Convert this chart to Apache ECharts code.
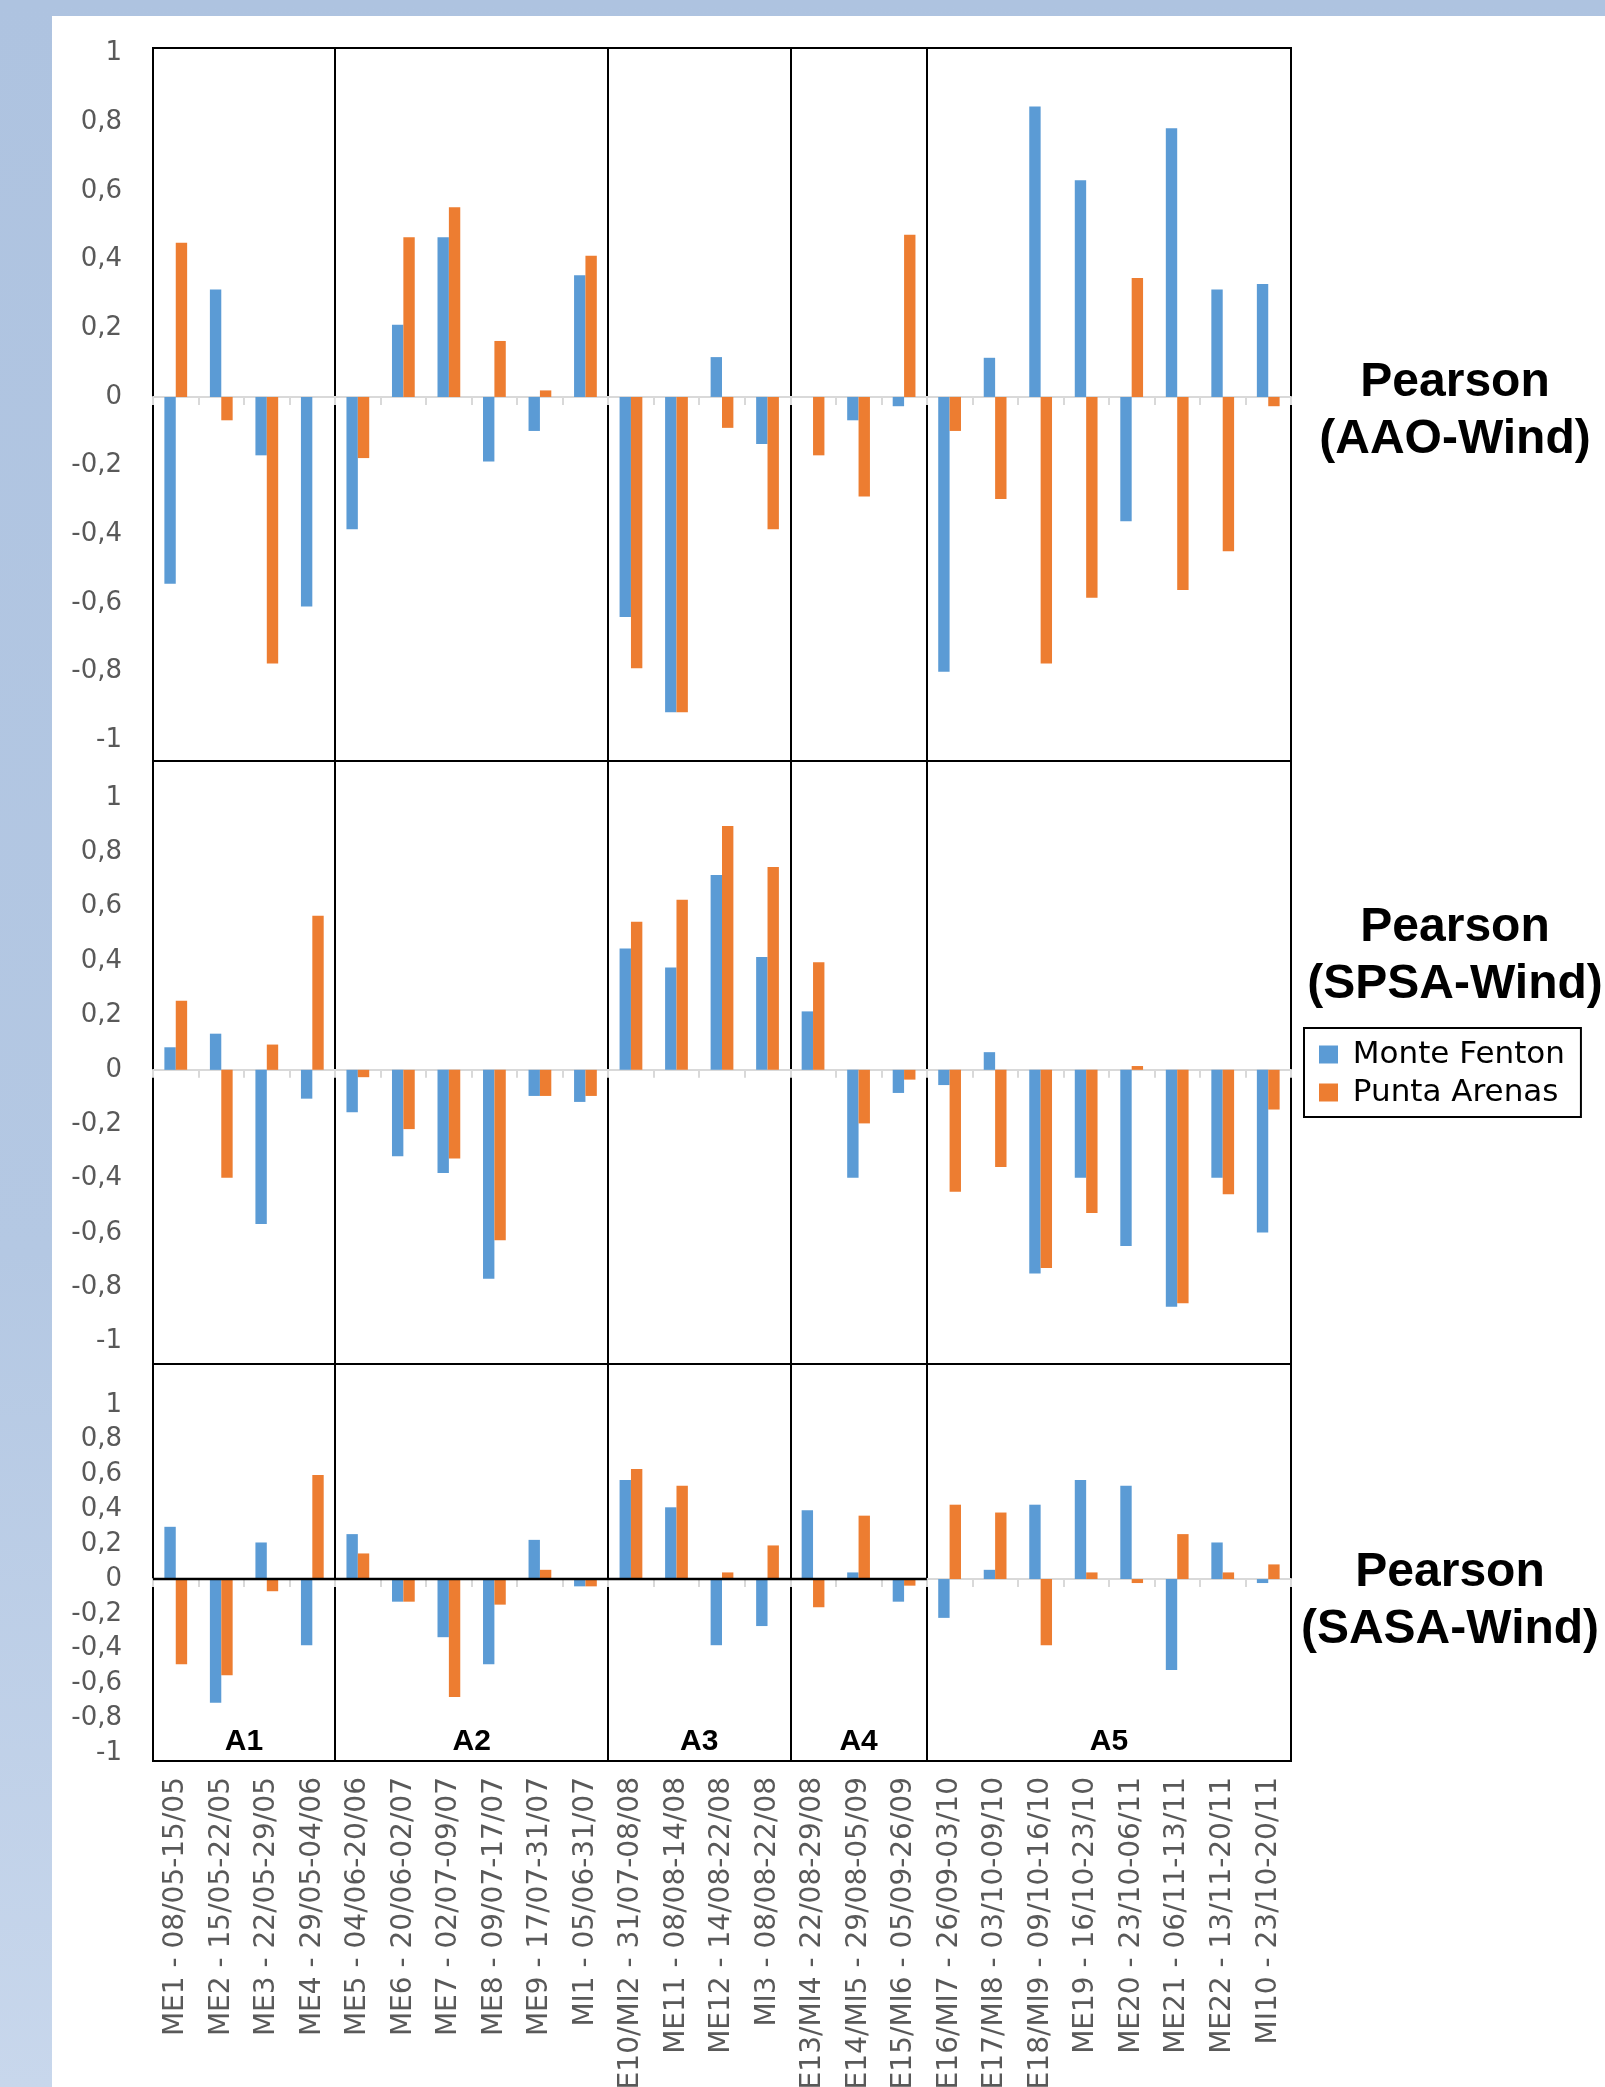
<!DOCTYPE html>
<html>
<head>
<meta charset="utf-8">
<script src="https://cdn.jsdelivr.net/npm/echarts@6/dist/echarts.min.js"></script>
<style>
  html, body { margin: 0; padding: 0; width: 1605px; height: 2087px; overflow: hidden; }
  body { background: linear-gradient(to bottom, #aec3e0 0%, #b4c8e3 60%, #c8d7ec 100%); position: relative; }
  #paper { position: absolute; left: 52px; top: 16px; right: 0; bottom: 0; background: #ffffff; }
  #chart { position: absolute; left: 0; top: 0; width: 1605px; height: 2087px; }
</style>
</head>
<body>
<div id="paper"></div>
<div id="chart"></div>
<script>
// ---------------- DATA ----------------
const categories = [
  "ME1 - 08/05-15/05", "ME2 - 15/05-22/05", "ME3 - 22/05-29/05", "ME4 - 29/05-04/06",
  "ME5 - 04/06-20/06", "ME6 - 20/06-02/07", "ME7 - 02/07-09/07", "ME8 - 09/07-17/07", "ME9 - 17/07-31/07", "MI1 - 05/06-31/07",
  "ME10/MI2 - 31/07-08/08", "ME11 - 08/08-14/08", "ME12 - 14/08-22/08", "MI3 - 08/08-22/08",
  "ME13/MI4 - 22/08-29/08", "ME14/MI5 - 29/08-05/09", "ME15/MI6 - 05/09-26/09",
  "ME16/MI7 - 26/09-03/10", "ME17/MI8 - 03/10-09/10", "ME18/MI9 - 09/10-16/10", "ME19 - 16/10-23/10",
  "ME20 - 23/10-06/11", "ME21 - 06/11-13/11", "ME22 - 13/11-20/11", "MI10 - 23/10-20/11"
];
const groupNames = ["A1", "A2", "A3", "A4", "A5"];
const groupSizes = [4, 6, 4, 3, 8];
const seriesNames = ["Monte Fenton", "Punta Arenas"];
const rowTitles = ["(AAO-Wind)", "(SPSA-Wind)", "(SASA-Wind)"];
const yTickValues = [-1, -0.8, -0.6, -0.4, -0.2, 0, 0.2, 0.4, 0.6, 0.8, 1];

const aaoMonteFenton = [-0.544, 0.313, -0.17, -0.61, -0.385, 0.21, 0.465, -0.188, -0.099, 0.354, -0.641, -0.918, 0.116, -0.137, 0, -0.068, -0.027, -0.80, 0.114, 0.846, 0.631, -0.362, 0.782, 0.313, 0.329];
const aaoPuntaArenas = [0.449, -0.068, -0.776, 0, -0.178, 0.465, 0.552, 0.163, 0.019, 0.411, -0.79, -0.918, -0.09, -0.385, -0.17, -0.29, 0.472, -0.099, -0.297, -0.776, -0.585, 0.346, -0.562, -0.449, -0.027];

const spsaMonteFenton = [0.083, 0.133, -0.567, -0.106, -0.156, -0.318, -0.379, -0.768, -0.096, -0.118, 0.446, 0.376, 0.717, 0.415, 0.215, -0.397, -0.085, -0.056, 0.065, -0.749, -0.397, -0.648, -0.871, -0.397, -0.598];
const spsaPuntaArenas = [0.254, -0.397, 0.093, 0.567, -0.027, -0.218, -0.326, -0.627, -0.096, -0.096, 0.545, 0.626, 0.897, 0.746, 0.396, -0.197, -0.036, -0.448, -0.357, -0.729, -0.527, 0.014, -0.859, -0.458, -0.146];

const sasaMonteFenton = [0.30, -0.71, 0.21, -0.38, 0.258, -0.13, -0.334, -0.49, 0.225, -0.042, 0.569, 0.412, -0.38, -0.27, 0.395, 0.038, -0.13, -0.223, 0.053, 0.427, 0.569, 0.536, -0.523, 0.21, -0.023];
const sasaPuntaArenas = [-0.49, -0.553, -0.07, 0.597, 0.147, -0.13, -0.677, -0.147, 0.053, -0.042, 0.632, 0.536, 0.038, 0.193, -0.162, 0.364, -0.038, 0.427, 0.382, -0.38, 0.038, -0.023, 0.258, 0.038, 0.084];

// ---------------- LAYOUT ----------------
const BLUE = "#5b9bd5", ORANGE = "#ed7d31";
const GRID_LEFT = 153, GRID_W = 1138;
const rows = [
  { top: 48,   height: 713, min: -1.06,  max: 1.016, mf: aaoMonteFenton,  pa: aaoPuntaArenas,  titleY: 383,  titleX: 1455 },
  { top: 761,  height: 603, min: -1.082, max: 1.136, mf: spsaMonteFenton, pa: spsaPuntaArenas, titleY: 928,  titleX: 1455 },
  { top: 1364, height: 397, min: -1.045, max: 1.235, mf: sasaMonteFenton, pa: sasaPuntaArenas, titleY: 1573, titleX: 1450 }
];
const FONT = "DejaVu Sans";

// group boundary indices
const groupStarts = [];
let acc = 0;
groupSizes.forEach((s, i) => { if (i > 0) groupStarts.push(acc); acc += s; });
const nCat = categories.length;
const band = GRID_W / nCat;

function fmtY(v) {
  if (Math.abs(v) < 1e-9) return "0";
  if (Math.abs(v - Math.round(v)) < 1e-9) return String(Math.round(v));
  return v.toFixed(1).replace(".", ",");
}

const grid = [], xAxis = [], yAxis = [], series = [];
rows.forEach((r, i) => {
  grid.push({
    left: GRID_LEFT, width: GRID_W, top: r.top, height: r.height,
    show: true, borderColor: "#000", borderWidth: 2, backgroundColor: "transparent",
    containLabel: false, outerBoundsMode: "none"
  });
  xAxis.push({
    type: "category", gridIndex: i, data: categories, position: "top",
    axisLine: { show: true, onZero: true, lineStyle: { color: "#d9d9d9", width: 2 } },
    axisTick: { show: true, inside: true, length: 8, interval: 0, lineStyle: { color: "#d9d9d9", width: 2 } },
    axisLabel: { show: false },
    splitLine: {
      show: true,
      interval: function (idx) { return groupStarts.indexOf(idx) >= 0; },
      lineStyle: { color: "#000", width: 2 }
    }
  });
  yAxis.push({
    type: "value", gridIndex: i, min: r.min, max: r.max,
    axisLine: { show: false }, axisTick: { show: false }, splitLine: { show: false },
    axisLabel: {
      show: true, customValues: yTickValues, formatter: fmtY,
      margin: 31, fontSize: 26, fontFamily: FONT, color: "#595959"
    }
  });
  series.push({
    type: "bar", name: seriesNames[0], xAxisIndex: i, yAxisIndex: i, data: r.mf,
    barWidth: "25%", barGap: "0%", itemStyle: { color: BLUE }
  });
  series.push({
    type: "bar", name: seriesNames[1], xAxisIndex: i, yAxisIndex: i, data: r.pa,
    barWidth: "25%", barGap: "0%", itemStyle: { color: ORANGE }
  });
});
// label axis at the bottom of the lowest panel
xAxis.push({
  type: "category", gridIndex: 2, data: categories, position: "bottom",
  axisLine: { show: false, onZero: false }, axisTick: { show: false }, splitLine: { show: false },
  axisLabel: { show: true, interval: 0, rotate: 90, margin: 16, fontSize: 28, fontFamily: FONT, color: "#595959" }
});

// graphics: row titles, group labels, black zero segment in bottom panel
const graphic = [];
rows.forEach((r, i) => {
  graphic.push({
    type: "text", x: r.titleX, y: r.titleY, z: 20,
    style: { text: "Pearson", font: "bold 48px 'Liberation Sans'", fill: "#000", align: "center", verticalAlign: "middle" }
  });
  graphic.push({
    type: "text", x: r.titleX, y: r.titleY + 57, z: 20,
    style: { text: rowTitles[i], font: "bold 48px 'Liberation Sans'", fill: "#000", align: "center", verticalAlign: "middle" }
  });
});
let start = 0;
groupSizes.forEach((s, gi) => {
  const cx = GRID_LEFT + band * (start + s / 2);
  graphic.push({
    type: "text", x: cx, y: 1742, z: 20,
    style: { text: groupNames[gi], font: "bold 30px 'Liberation Sans'", fill: "#000", align: "center", verticalAlign: "middle" }
  });
  start += s;
});
const br = rows[2];
const zeroY = br.top + br.height * (br.max / (br.max - br.min));
graphic.push({
  type: "line", z: 5,
  shape: { x1: GRID_LEFT, y1: zeroY, x2: GRID_LEFT + band * groupStarts[3], y2: zeroY },
  style: { stroke: "#000", lineWidth: 2.5 }
});

const chart = echarts.init(document.getElementById("chart"), null, { renderer: "canvas", width: 1605, height: 2087 });
chart.setOption({
  animation: false,
  backgroundColor: "transparent",
  grid, xAxis, yAxis, series, graphic,
  legend: {
    show: true, orient: "vertical", left: 1304, top: 1028,
    data: seriesNames,
    icon: "rect", itemWidth: 19, itemHeight: 18, itemGap: 7,
    padding: [11, 16, 9, 15],
    borderColor: "#000", borderWidth: 2, backgroundColor: "#fff",
    formatter: function (n) { return " " + n; },
    textStyle: { fontSize: 31, fontFamily: FONT, color: "#000" }
  },
  tooltip: { show: false }
});
</script>
</body>
</html>
